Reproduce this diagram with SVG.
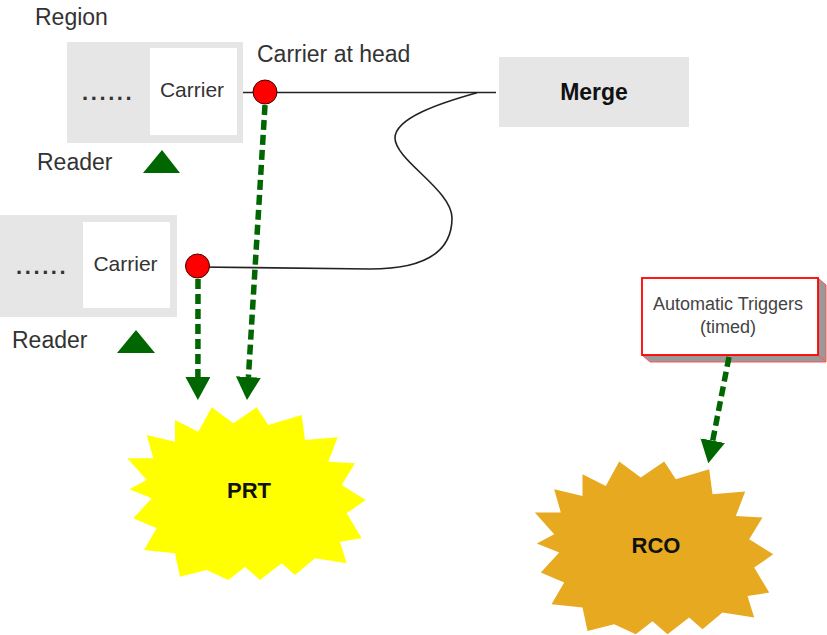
<svg xmlns="http://www.w3.org/2000/svg" xmlns:xlink="http://www.w3.org/1999/xlink" width="827" height="635" viewBox="0 0 827 635">
<style>
text{font-family:"Liberation Sans",Arial,sans-serif;fill:#333}
.lbl{font-size:23px}
.car{font-size:21px;text-anchor:middle}
.dots{font-size:22px;letter-spacing:2.6px;fill:#333;font-weight:bold}
.bold{font-weight:bold;fill:#111;text-anchor:middle}
.gray{fill:#e6e6e6}
.white{fill:#fff}
.tri{fill:#006600}
.dot{fill:#ff0000;stroke:#400000;stroke-width:1}
.wire{fill:none;stroke:#222;stroke-width:1.6}
.dash{fill:none;stroke:#006600;stroke-width:5.5;stroke-dasharray:10 5}
.trig{font-size:18px;text-anchor:middle;fill:#444}
</style>
<defs>
<polygon id="star" points="211.7,407.3 233.3,423.3 256.7,407.3 268.3,425 301.7,415 305,440 337.7,437.3 328.3,461.7 355,463.3 341.7,485 365.7,500 346.7,513.3 361.7,538.3 340,541.7 346.7,563.3 315,558.3 295,575 281.7,563.3 260,580 245,567 228.3,580 206.7,570 180,576.7 175,553.3 144,550 156.7,528.3 133.3,518.3 151.7,498.3 129.3,489.3 146.7,480 127.3,458.3 153.3,458.3 146.7,435 175,441.7 175,420 198.3,431.7"/>
<marker id="ah" markerUnits="userSpaceOnUse" viewBox="0 0 23 25" refX="0" refY="12.5" markerWidth="23" markerHeight="25" orient="auto">
<path d="M0,0 L23,12.5 L0,25 Z" fill="#006600"/>
</marker>
</defs>

<g id="region1">
<text class="lbl" x="35" y="25">Region</text>
<rect class="gray" x="67" y="42" width="176" height="101"/>
<rect class="white" x="150" y="48" width="87" height="87"/>
<text class="dots" x="82" y="100">......</text>
<text class="car" x="192" y="97">Carrier</text>
<text class="lbl" x="37" y="170">Reader</text>
<polygon class="tri" points="162,150 180,173 143,173"/>
</g>

<g id="region2">
<rect class="gray" x="0" y="215" width="177" height="102"/>
<rect class="white" x="83" y="222" width="87" height="86"/>
<text class="dots" x="16" y="274">......</text>
<text class="car" x="125.5" y="271">Carrier</text>
<text class="lbl" x="12" y="348">Reader</text>
<polygon class="tri" points="136,330 155,353 117,353"/>
</g>

<g id="head-label">
<text class="lbl" x="257" y="62">Carrier at head</text>
</g>

<g id="merge">
<rect class="gray" x="499" y="57" width="190" height="70"/>
<text class="bold" x="594" y="100" font-size="23">Merge</text>
</g>

<g id="triggers">
<polygon points="818,278 826,285 826,362 818,355" fill="#999" stroke="#ff5555" stroke-width="1"/>
<polygon points="642,355 818,355 826,362 650,362" fill="#999" stroke="#ff5555" stroke-width="1"/>
<rect x="642" y="278" width="176" height="77" fill="#fff" stroke="#ff0000" stroke-width="1.8"/>
<text class="trig" x="728" y="310">Automatic Triggers</text>
<text class="trig" x="728" y="333">(timed)</text>
</g>

<g id="prt">
<use xlink:href="#star" fill="#ffff00"/>
<text class="bold" x="249" y="498" font-size="22">PRT</text>
</g>

<g id="rco">
<use xlink:href="#star" fill="#e6a91f" transform="translate(407.5,54.3)"/>
<text class="bold" x="656" y="553" font-size="22">RCO</text>
</g>

<g id="connectors">
<path class="wire" d="M243,92.5 L496,92.5"/>
<path class="wire" d="M477,92.7 C440,103 395,118 395,138 C395,160 452,190 452,218 C452,255 420,269 370,269 L198,267"/>
<path class="dash" d="M265,105 L248.4,377" marker-end="url(#ah)"/>
<path class="dash" d="M198,279 L197.9,377" marker-end="url(#ah)"/>
<path class="dash" d="M729,357 L712.7,440.7" marker-end="url(#ah)"/>
<circle class="dot" cx="265" cy="92" r="12"/>
<circle class="dot" cx="197.5" cy="266" r="12"/>
</g>
</svg>
